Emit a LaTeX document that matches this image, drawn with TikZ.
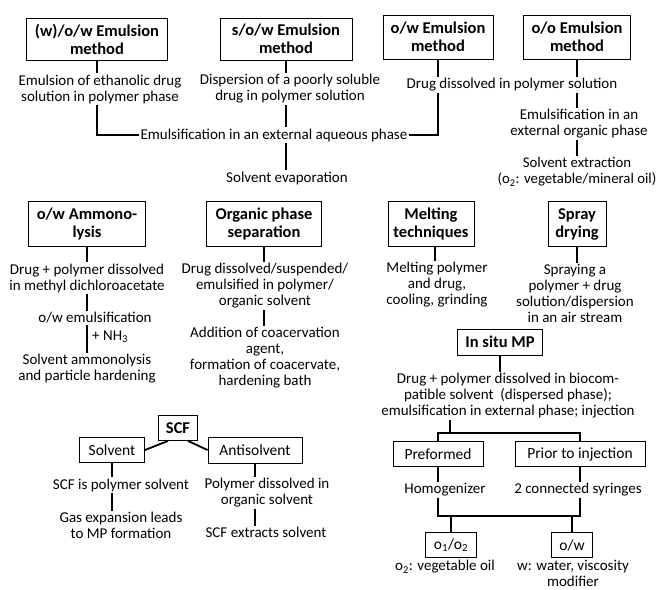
\documentclass[tikz,border=0pt]{standalone}
\usepackage{fontspec}
\setmainfont{Carlito}
\usetikzlibrary{positioning}
\tikzset{
  hdr/.style={draw, line width=0.9pt, align=center, inner xsep=3pt, inner ysep=1pt,
    font=\bfseries\fontsize{16.5}{18}\selectfont},
  box/.style={draw, line width=0.9pt, align=center, inner xsep=3pt, inner ysep=1pt,
    font=\fontsize{15.5}{17}\selectfont},
  txt/.style={align=center, inner sep=1pt, font=\fontsize{15}{16}\selectfont},
  link/.style={line width=1.8pt},
}

\begin{document}
\begin{tikzpicture}[x=1pt,y=-1pt]
    \useasboundingbox (0,0) rectangle (658,589);
    % Emulsion methods
    \node[hdr, minimum width=141pt, minimum height=42pt] (wow) at (97,39) {(w)/o/w Emulsion\\method};
    \node[hdr, minimum width=132pt, minimum height=42pt] (sow) at (286,39) {s/o/w Emulsion\\method};
    \node[hdr, minimum width=110pt, minimum height=44pt] (ow) at (438,37) {o/w Emulsion\\method};
    \node[hdr, minimum width=107pt, minimum height=44pt] (oo) at (577,37) {o/o Emulsion\\method};
    \node[txt] (wowA) at (100,89) {Emulsion of ethanolic drug\\solution in polymer phase};
    \node[txt] (sowA) at (290,89) {Dispersion of a poorly soluble\\drug in polymer solution};
    \node[txt] (owA) at (512,85) {Drug dissolved in polymer solution};
    \node[txt] (emaq) at (274,135) {Emulsification in an external aqueous phase};
    \node[txt] (evap) at (287,178) {Solvent evaporation};
    \node[txt] (ooB) at (579,124) {Emulsification in an\\external organic phase};
    \node[txt, font=\fontsize{14.8}{16}\selectfont] (ooC) at (577,172) {Solvent extraction\\(o\textsubscript{2}: vegetable/mineral oil)};
    \draw[link] (wow.south) -- (wow.south |- wowA.north);
    \draw[link] (sow.south) -- (sow.south |- sowA.north);
    \draw[link] (ow.south) -- (ow.south |- owA.north);
    \draw[link] (oo.south) -- (oo.south |- owA.north);
    \draw[link] (wow.south |- wowA.south) |- (emaq.west);
    \draw[link] (sow.south |- sowA.south) -- (sow.south |- emaq.north);
    \draw[link] (sow.south |- emaq.south) -- (sow.south |- evap.north);
    \draw[link] (ow.south |- owA.south) |- (emaq.east);
    \draw[link] (oo.south |- owA.south) -- (oo.south |- ooB.north);
    \draw[link] (oo.south |- ooB.south) -- (oo.south |- ooC.north);

    % Second row
    \node[hdr, minimum width=117pt, minimum height=45pt] (amm) at (87,224) {o/w Ammono-\\lysis};
    \node[hdr, minimum width=115pt, minimum height=45pt] (ops) at (264,224) {Organic phase\\separation};
    \node[hdr, minimum width=86pt, minimum height=45pt] (melt) at (431,224) {Melting\\techniques};
    \node[hdr, minimum width=58pt, minimum height=45pt] (spray) at (577,224) {Spray\\drying};
    \node[txt] (ammA) at (87,278) {Drug + polymer dissolved\\in methyl dichloroacetate};
    \node[txt] (ammB) at (95,318) {o/w emulsification};
    \node[txt] (ammC) at (87,369) {Solvent ammonolysis\\and particle hardening};
    \node[txt, anchor=west] (nh) at (91,337) {+ NH\textsubscript{3}};
    \node[txt] (opsA) at (265,286) {Drug dissolved/suspended/\\emulsified in polymer/\\organic solvent};
    \node[txt] (opsB) at (265,358) {Addition of coacervation\\agent,\\formation of coacervate,\\hardening bath};
    \node[txt] (meltA) at (437,285) {Melting polymer\\and drug,\\cooling, grinding};
    \node[txt] (sprayA) at (575,293) {Spraying a\\polymer + drug\\solution/dispersion\\in an air stream};
    \draw[link] (amm.south) -- (amm.south |- ammA.north);
    \draw[link] (amm.south |- ammA.south) -- (amm.south |- ammB.north);
    \draw[link] (amm.south |- ammB.south) -- (amm.south |- ammC.north);
    \draw[link] (ops.south) -- (ops.south |- opsA.north);
    \draw[link] (ops.south |- opsA.south) -- (ops.south |- opsB.north);
    \draw[link] ([xshift=4pt]melt.south) -- ([xshift=4pt]melt.south |- meltA.north);
    \draw[link] (spray.south) -- (spray.south |- sprayA.north);

    % In situ MP
    \node[hdr, minimum width=85pt, minimum height=26pt] (insitu) at (500,342) {In situ MP};
    \node[txt] (insA) at (508,396) {Drug + polymer dissolved in biocom-\\patible solvent~~(dispersed phase);\\emulsification in external phase; injection};
    \node[box, minimum width=90pt, minimum height=25pt] (pre) at (438,454) {Preformed};
    \node[box, minimum width=130pt, minimum height=25pt] (prior) at (580,454) {Prior to injection};
    \node[txt] (preA) at (445,490) {Homogenizer};
    \node[txt] (priorA) at (578,490) {2 connected syringes};
    \node[box, minimum width=51pt, minimum height=25pt] (oo2) at (451,545) {o\textsubscript{1}/o\textsubscript{2}};
    \node[box, minimum width=41pt, minimum height=25pt] (owb) at (572,545) {o/w};
    \node[txt] (oo2A) at (445,567) {o\textsubscript{2}: vegetable oil};
    \node[txt] (owbA) at (573,573) {w: water, viscosity\\modifier};
    \coordinate (split) at (450,433);
    \coordinate (join) at (0,516);
    \draw[link] (insitu.south) -- (insitu.south |- insA.north);
    \draw[link] (split) -- (split |- insA.south);
    \draw[link] (pre.north) |- (split) -| (prior.north);
    \draw[link] (pre.south) -- (pre.south |- preA.north);
    \draw[link] (prior.south) -- (prior.south |- priorA.north);
    \draw[link] (pre.south |- preA.south) |- (prior.south |- join) -- (prior.south |- priorA.south);
    \draw[link] (oo2.north) -- (oo2.north |- join);
    \draw[link] (owb.north) -- (owb.north |- join);

    % SCF
    \node[hdr, minimum width=39pt, minimum height=25pt] (scf) at (178,428) {SCF};
    \node[box, minimum width=65pt, minimum height=25pt] (solv) at (112,450) {Solvent};
    \node[box, minimum width=94pt, minimum height=26pt] (anti) at (255,450) {Antisolvent};
    \node[txt] (solvA) at (121,485) {SCF is polymer solvent};
    \node[txt] (solvB) at (121,525) {Gas expansion leads\\to MP formation};
    \node[txt] (antiA) at (267,493) {Polymer dissolved in\\organic solvent};
    \node[txt] (antiB) at (266,532) {SCF extracts solvent};
    \draw[link] (solv.east) -- ([xshift=-10pt]scf.south);
    \draw[link] ([xshift=10pt]scf.south) -- (anti.west);
    \draw[link] (solv.south) -- (solv.south |- solvA.north);
    \draw[link] (solv.south |- solvA.south) -- (solv.south |- solvB.north);
    \draw[link] (anti.south) -- (anti.south |- antiA.north);
    \draw[link] (anti.south |- antiA.south) -- (anti.south |- antiB.north);
\end{tikzpicture}
\end{document}
